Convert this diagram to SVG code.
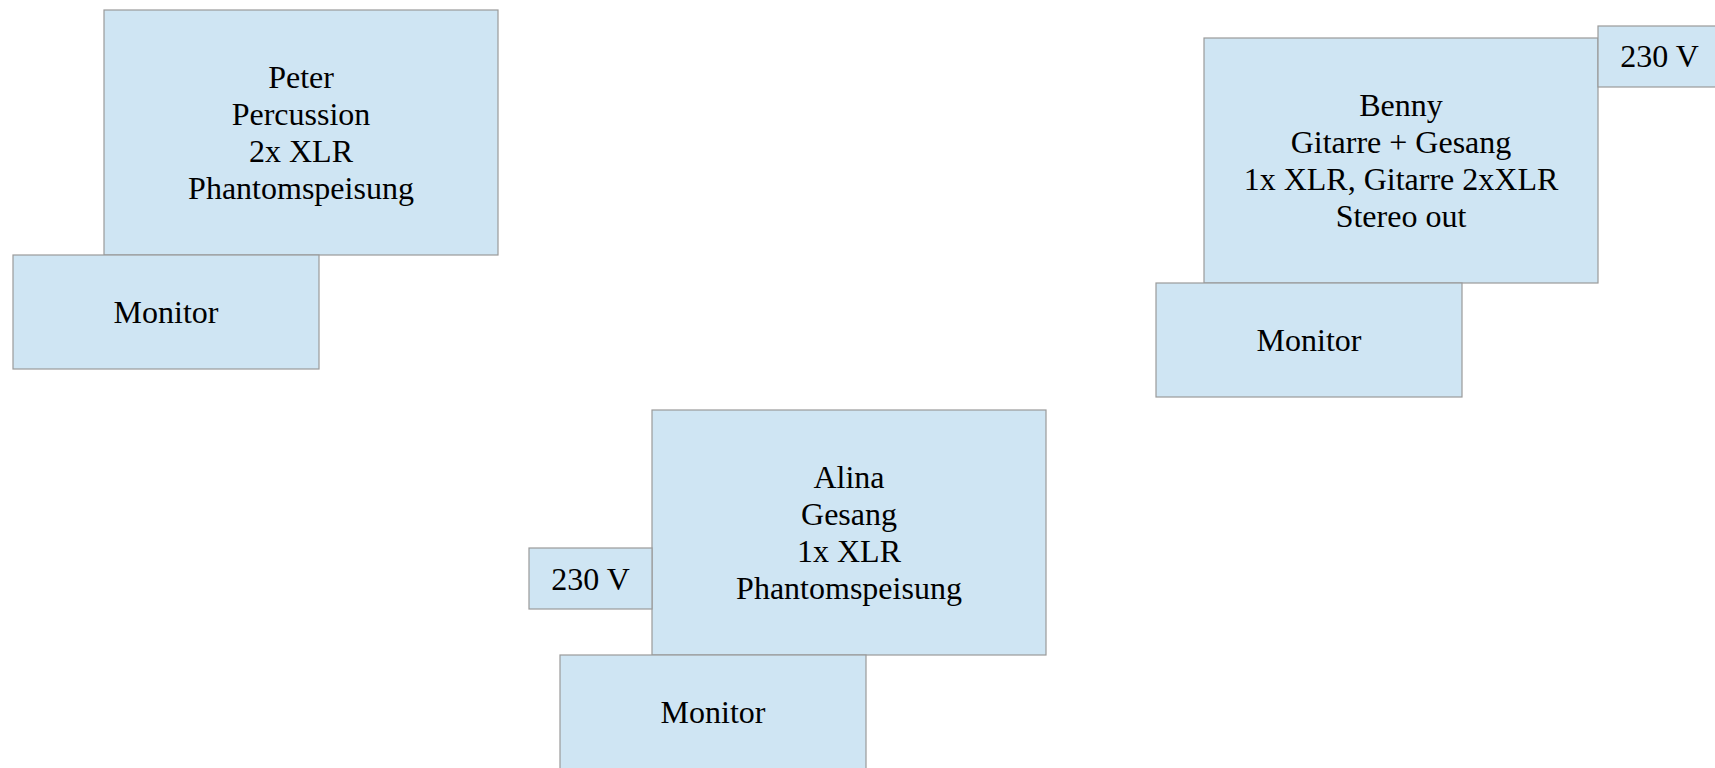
<svg xmlns="http://www.w3.org/2000/svg" width="1715" height="768" viewBox="0 0 1715 768">
<style>
.box{fill:#cfe5f3;stroke:#9a9a9a;stroke-width:1.2}
.t{font-family:"Liberation Serif","Times New Roman",serif;font-size:32px;fill:#000;text-anchor:middle}
</style>
<rect width="1715" height="768" fill="#ffffff"/>
<g id="connectors"></g>
<g id="peter">
<rect class="box" x="104" y="10" width="394" height="245"/>
<text class="t" x="301" y="88">Peter</text>
<text class="t" x="301" y="125">Percussion</text>
<text class="t" x="301" y="162">2x XLR</text>
<text class="t" x="301" y="199">Phantomspeisung</text>
</g>
<g id="peter-monitor">
<rect class="box" x="13" y="255" width="306" height="114"/>
<text class="t" x="166" y="323">Monitor</text>
</g>
<g id="benny">
<rect class="box" x="1204" y="38" width="394" height="245"/>
<text class="t" x="1401" y="116">Benny</text>
<text class="t" x="1401" y="153">Gitarre + Gesang</text>
<text class="t" x="1401" y="190">1x XLR, Gitarre 2xXLR</text>
<text class="t" x="1401" y="227">Stereo out</text>
</g>
<g id="benny-power">
<rect class="box" x="1598" y="26" width="123" height="61"/>
<text class="t" x="1659.5" y="67">230 V</text>
</g>
<g id="benny-monitor">
<rect class="box" x="1156" y="283" width="306" height="114"/>
<text class="t" x="1309" y="351">Monitor</text>
</g>
<g id="alina">
<rect class="box" x="652" y="410" width="394" height="245"/>
<text class="t" x="849" y="488">Alina</text>
<text class="t" x="849" y="525">Gesang</text>
<text class="t" x="849" y="562">1x XLR</text>
<text class="t" x="849" y="599">Phantomspeisung</text>
</g>
<g id="alina-power">
<rect class="box" x="529" y="548" width="123" height="61"/>
<text class="t" x="590.5" y="590">230 V</text>
</g>
<g id="alina-monitor">
<rect class="box" x="560" y="655" width="306" height="114"/>
<text class="t" x="713" y="723">Monitor</text>
</g>
</svg>
